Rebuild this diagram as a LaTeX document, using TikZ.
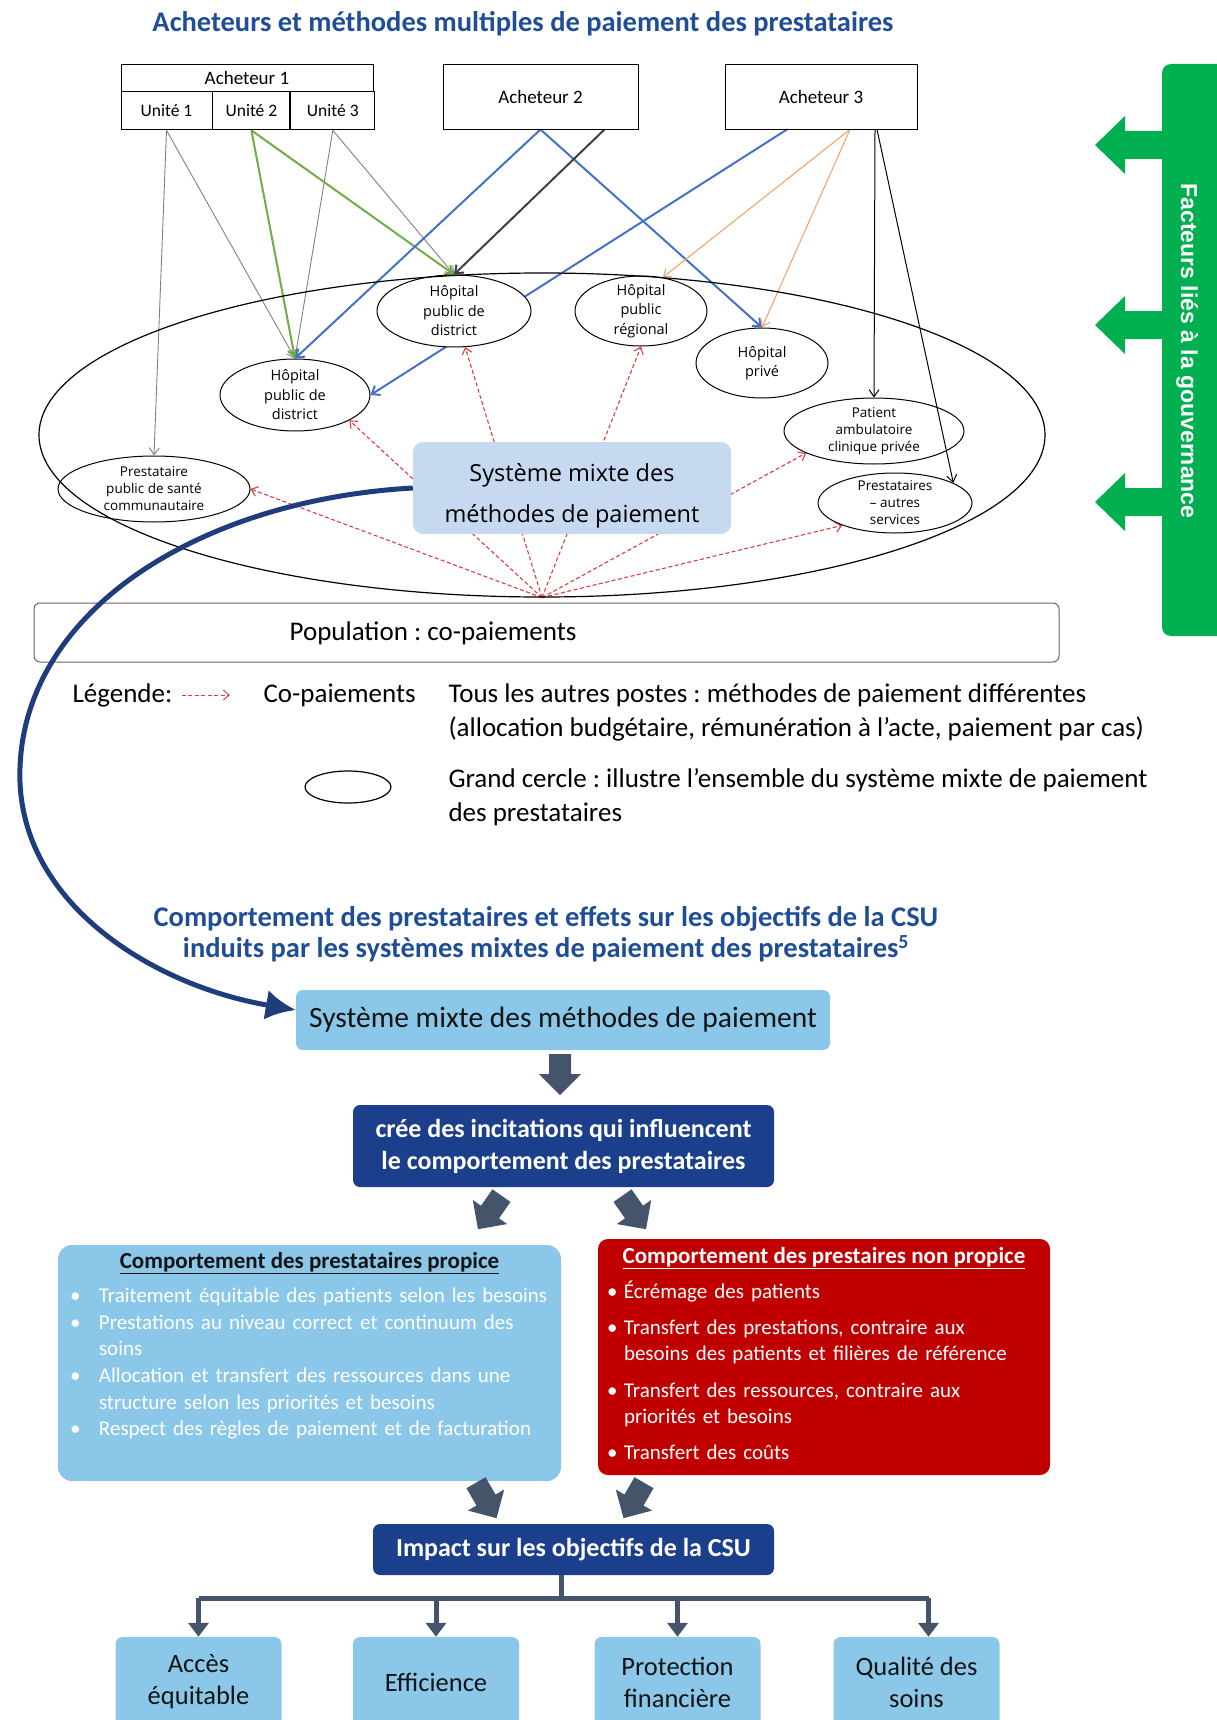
\documentclass[tikz,border=0pt]{standalone}
\usepackage{fontspec}
\setmainfont{Carlito}
\newfontfamily\osans{Open Sans}
\newfontfamily\lsans{Liberation Sans}
\usetikzlibrary{arrows.meta,positioning,shapes.geometric,backgrounds}
\definecolor{titleblue}{HTML}{1F4E96}
\definecolor{topblue}{HTML}{C6D9F1}
\definecolor{skyblue}{HTML}{8BC7E8}
\definecolor{navybox}{HTML}{1C3F8C}
\definecolor{curveblue}{HTML}{1F3D7C}
\definecolor{slate}{HTML}{44546A}
\definecolor{redbox}{HTML}{C00000}
\definecolor{govgreen}{HTML}{00B050}
\definecolor{lgreen}{HTML}{70AD47}
\definecolor{lblue}{HTML}{4472C4}
\definecolor{lorange}{HTML}{F1A46C}
\definecolor{copayred}{HTML}{E03C3C}
\definecolor{ink}{HTML}{141414}
\frenchspacing

% bullet line with hanging indent
\newcommand\bitem[2]{\par\hangindent=#1\hangafter=1\noindent\makebox[#1][l]{\textbullet}#2}
\newcommand\brk{\hfil\break}

\begin{document}
\begin{tikzpicture}[
  x=1pt, y=1pt,
  buyer/.style={draw, line width=0.9pt, inner sep=0pt, font=\fontsize{19}{21}\selectfont},
  unit/.style={buyer, minimum height=38, anchor=north west, font=\fontsize{17.5}{19}\selectfont},
  hosp/.style={ellipse, draw, line width=1pt, inner sep=-3pt, align=center,
    font=\osans\fontsize{14.5}{19.5}\selectfont},
  small/.style={hosp, inner sep=-6pt, font=\osans\fontsize{13.5}{17}\selectfont},
  gline/.style={draw=gray, line width=0.9pt, -{Straight Barb[length=7pt,width=10pt]}},
  grnline/.style={draw=lgreen, line width=2pt, -{Straight Barb[length=7pt,width=11pt]}},
  bluline/.style={draw=lblue, line width=2pt, -{Straight Barb[length=7pt,width=11pt]}},
  dkline/.style={draw=black!75, line width=2pt, -{Straight Barb[length=7pt,width=11pt]}},
  orline/.style={draw=lorange, line width=1.1pt, -{Straight Barb[length=7pt,width=10pt]}},
  blkline/.style={draw=black, line width=1pt, -{Straight Barb[length=7pt,width=10pt]}},
  copay/.style={draw=copayred, line width=1.1pt, dash pattern=on 4pt off 2.5pt,
    -{Straight Barb[length=6pt,width=10pt]}},
  skybox/.style={fill=skyblue, rounded corners=7pt, align=center, text=ink},
  navy/.style={fill=navybox, rounded corners=7pt, align=center, text=white,
    font=\bfseries\fontsize{26}{32}\selectfont},
  goal/.style={skybox, minimum width=166, minimum height=90,
    font=\fontsize{26.5}{32}\selectfont},
  tree/.style={draw=slate, line width=5pt},
  bigcurve/.style={draw=curveblue, line width=5pt, -{Latex[length=30pt,width=30pt]}},
  fatarrow/.pic={\fill[slate] (-11,20) -- (11,20) -- (11,0) -- (21,0) -- (0,-21)
    -- (-21,0) -- (-11,0) -- cycle;}
]
\useasboundingbox (0,0) rectangle (1216,-1720);

% ---- upper part
\node[font=\bfseries\fontsize{28.5}{30}\selectfont, text=titleblue]
  (title) at (523,-24) {Acheteurs et méthodes multiples de paiement des prestataires};

\node[buyer, minimum width=252, minimum height=27] (a1) at (247,-77.5) {Acheteur 1};
\node[unit, minimum width=91] (u1) at (a1.south west) {Unité 1};
\node[unit, minimum width=77] (u2) at (u1.north east) {Unité 2};
\node[unit, minimum width=84] (u3) at (u2.north east) {Unité 3};
\node[buyer, minimum width=195, minimum height=65] (a2) at (540.5,-96.5) {Acheteur 2};
\node[buyer, minimum width=192, minimum height=65] (a3) at (821,-96.5) {Acheteur 3};

\node[hosp, fill=white, minimum width=154, minimum height=72] (hd1) at (454,-311)
  {Hôpital\\public de\\district};
\node[hosp, minimum width=150, minimum height=72] (hd2) at (295,-395)
  {Hôpital\\public de\\district};
\node[hosp, minimum width=132, minimum height=70] (hreg) at (641,-311)
  {Hôpital\\public\\régional};
\node[hosp, minimum width=132, minimum height=70] (hpriv) at (762,-363)
  {Hôpital\\privé};
\node[small, minimum width=180, minimum height=66] (pamb) at (874,-431)
  {Patient\\ambulatoire\\clinique privée};
\node[small, minimum width=154, minimum height=60] (autres) at (895,-503)
  {Prestataires\\– autres\\services};
\node[small, minimum width=192, minimum height=66] (comm) at (154,-489)
  {Prestataire\\public de santé\\communautaire};

\node[ellipse, draw, line width=1.2pt, minimum width=1006, minimum height=324]
  (grand) at (542,-435) {};

\node[fill=topblue, rounded corners=10pt, minimum width=318, minimum height=92]
  (sys) at (572,-488) {};
\node[align=center, font=\osans\fontsize{23.5}{41}\selectfont] (systxt)
  at ([yshift=-8]sys.center) {Système mixte des\\méthodes de paiement};

\begin{scope}[on background layer]
  \draw[gline] (u1.south) -- (comm.north);
  \draw[gline] (u1.south) -- (hd2.north);
  \draw[gline] (u3.south) -- (hd2.north);
  \draw[gline] (u3.south) -- (hd1.north);
  \draw[grnline] (u2.south) -- (hd2.north);
  \draw[grnline] (u2.south) -- (hd1.north);
  \draw[bluline] (a2.south) -- (hd2.north);
  \draw[bluline] (a2.south) -- (hpriv.north);
  \draw[dkline] ([xshift=64]a2.south) -- (hd1.north);
  \draw[bluline] ([xshift=-34]a3.south) -- (hd2.east);
  \draw[orline] ([xshift=29]a3.south) -- (hreg.57);
  \draw[orline] ([xshift=29]a3.south) -- (hpriv.north);
  \draw[blkline] ([xshift=54]a3.south) -- (pamb.north);
  \draw[blkline] ([xshift=56]a3.south) -- (autres.19);
  % co-payments
  \draw[copay] (grand.south) -- (hd1);
  \draw[copay] (grand.south) -- (hreg.south);
  \draw[copay] (grand.south) -- (hd2.-25);
  \draw[copay] (grand.south) -- (comm.east);
  \draw[copay] (grand.south) -- (pamb.198);
  \draw[copay] (grand.south) -- (autres.203);
\end{scope}

% governance bar
\fill[govgreen, rounded corners=9pt] (1162,-64) rectangle (1240,-636);
\foreach \y in {-145,-325,-502}
  \fill[govgreen] (1166,\y+14) -- (1125,\y+14) -- (1125,\y+29) -- (1095,\y)
    -- (1125,\y-29) -- (1125,\y-14) -- (1166,\y-14) -- cycle;
\node[rotate=-90, text=white, font=\lsans\bfseries\fontsize{23}{25}\selectfont]
  (gov) at (1187,-351) {Facteurs liés à la gouvernance};

% population and legend
\node[draw=black!60, line width=1pt, rounded corners=6pt, minimum width=1025,
  minimum height=59] (pop) at (546.5,-632.5) {};
\node[font=\fontsize{27}{30}\selectfont] (poptxt) at (433,-633) {Population : co-paiements};

\node[anchor=west, font=\fontsize{27}{30}\selectfont] (leg) at (69,-695) {Légende:};
\node[anchor=west, font=\fontsize{27}{30}\selectfont] (cop) at (260,-695) {Co-paiements};
\draw[copay, line width=0.9pt] ([xshift=6]leg.east) -- ([xshift=-30]cop.west);
\node[anchor=west, align=left, font=\fontsize{27}{34}\selectfont] (legtxt) at (445,-712)
  {Tous les autres postes : méthodes de paiement différentes\\
   (allocation budgétaire, rémunération à l’acte, paiement par cas)};
\node[ellipse, draw, line width=1.2pt, minimum width=86, minimum height=32] (legell)
  at (348,-787) {};
\node[anchor=west, align=left, font=\fontsize{27}{34}\selectfont] (legtxt2) at (445,-797.5)
  {Grand cercle : illustre l’ensemble du système mixte de paiement\\des prestataires};

% ---- lower part
\node[font=\bfseries\fontsize{28.5}{31}\selectfont, text=titleblue, align=center]
  (title2) at (546,-934) {Comportement des prestataires et effets sur les objectifs de la CSU\\
  induits par les systèmes mixtes de paiement des prestataires\textsuperscript{5}};

\node[skybox, minimum width=534, minimum height=60, font=\fontsize{29.5}{32}\selectfont]
  (lowsys) at (563,-1020) {Système mixte des méthodes de paiement};
\node[navy, minimum width=421, minimum height=82] (incit) at (563.5,-1146)
  {crée des incitations qui influencent\\le comportement des prestataires};

\draw[bigcurve] (sys.west) .. controls (200,-500) and (25,-610) .. (20,-768)
  .. controls (15,-900) and (150,-985) .. ([yshift=10]lowsys.west);

\pic at (560,-1074) {fatarrow};
\pic[rotate=-35] at (490,-1212) {fatarrow};
\pic[rotate=35] at (634,-1212) {fatarrow};

\node[skybox, rounded corners=14pt, minimum width=503, minimum height=236]
  (propice) at (309.5,-1363) {};
\node[fill=redbox, rounded corners=10pt, minimum width=452, minimum height=236]
  (nonprop) at (824,-1357) {};

\node[text=ink, font=\bfseries\fontsize{23}{26}\selectfont] (propT)
  at ([yshift=-18]propice.north) {\underline{Comportement des prestataires propice}};
\node[anchor=north west, inner sep=0pt, text width=490, text=white,
  font=\fontsize{21}{26.6}\selectfont] (propL)
  at ([xshift=12,yshift=-31]propice.north west) {%
  \bitem{29pt}{Traitement équitable des patients selon les besoins}
  \bitem{29pt}{Prestations au niveau correct et continuum des\brk soins}
  \bitem{29pt}{Allocation et transfert des ressources dans une\brk structure selon les priorités et besoins}
  \bitem{29pt}{Respect des règles de paiement et de facturation}};

\node[text=white, font=\bfseries\fontsize{23}{26}\selectfont] (nonT)
  at ([yshift=-19]nonprop.north) {\underline{Comportement des prestaires non propice}};
\node[anchor=north west, inner sep=0pt, text width=440, text=white,
  font=\fontsize{21}{26.3}\selectfont] (nonL)
  at ([xshift=9,yshift=-33]nonprop.north west) {%
  \bitem{17pt}{Écrémage des patients}\par\vspace{10pt}
  \bitem{17pt}{Transfert des prestations, contraire aux\brk besoins des patients et filières de référence}\par\vspace{10pt}
  \bitem{17pt}{Transfert des ressources, contraire aux\brk priorités et besoins}\par\vspace{10pt}
  \bitem{17pt}{Transfert des coûts}};

\pic[rotate=30] at (486,-1500) {fatarrow};
\pic[rotate=-30] at (634,-1500) {fatarrow};

\node[navy, minimum width=401, minimum height=51] (impact) at (573.5,-1549.5)
  {Impact sur les objectifs de la CSU};

\node[goal] (acces) at (198.5,-1682) {Accès\\équitable};
\node[goal] (effic) at (436,-1682) {Efficience};
\node[goal] (protec) at (677.5,-1682) {Protection\\financière};
\node[goal] (qualite) at (916.5,-1682) {Qualité des\\soins};

\coordinate (bar) at (0,-1598);
\draw[tree] ([xshift=-12]impact.south) -- ([xshift=-12]impact.south |- bar);
\draw[tree] (acces.north |- bar) -- ([xshift=12]qualite.north |- bar);
\foreach \b/\s in {acces/0, effic/0, protec/0, qualite/12}
  \draw[tree, -{Triangle[length=14pt,width=20pt]}] ([xshift=\s]\b.north |- bar)
    -- ([xshift=\s]\b.north);

\end{tikzpicture}
\end{document}
